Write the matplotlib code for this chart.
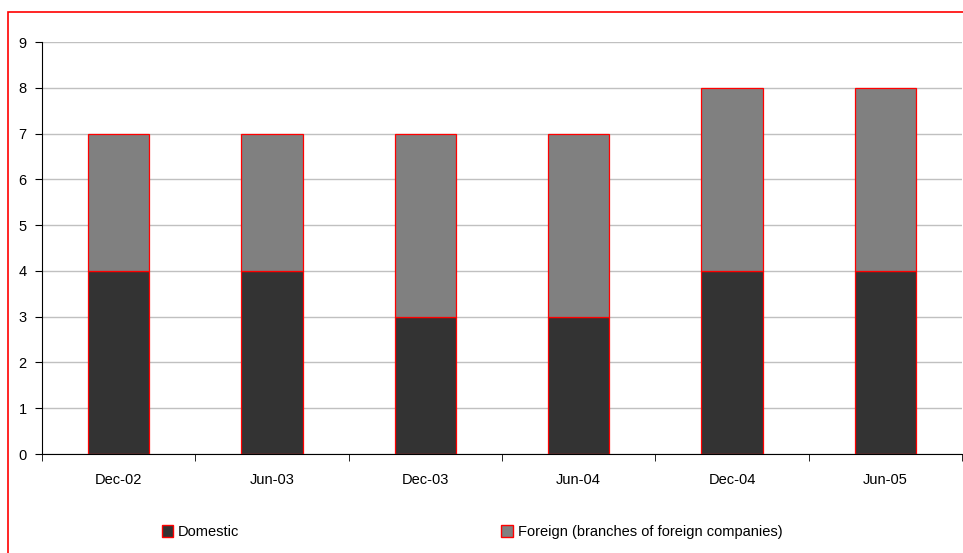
import numpy as np
import matplotlib
matplotlib.use('Agg')
from matplotlib import pyplot as plt
from matplotlib.patches import Rectangle, Patch

periods = ['Dec-02', 'Jun-03', 'Dec-03', 'Jun-04', 'Dec-04', 'Jun-05']
domestic = [4, 4, 3, 3, 4, 4]
foreign = [3, 3, 4, 4, 4, 4]

plt.rcParams['font.family'] = ['Liberation Sans', 'DejaVu Sans']

fig = plt.figure(figsize=(9.63, 5.53), dpi=100)
ax = fig.add_axes([42/963, 1 - 454/553, 920/963, 412/553])

x = np.arange(len(periods))
ax.bar(x, domestic, width=0.4, color='#333333', edgecolor='red', linewidth=0.9,
       label='Domestic', zorder=3)
ax.bar(x, foreign, width=0.4, bottom=domestic, color='#808080', edgecolor='red',
       linewidth=0.9, label='Foreign (branches of foreign companies)', zorder=3)

ax.set_xlim(-0.5, len(periods) - 0.5)
ax.set_ylim(0, 9)
ax.set_yticks(range(10))
ax.yaxis.grid(True, color='#c0c0c0', linewidth=1)
ax.set_axisbelow(True)

ax.set_xticks(x)
ax.set_xticklabels(periods, fontsize=10.5)
ax.tick_params(axis='x', length=0, pad=14)
ax.set_xticks(np.arange(len(periods) + 1) - 0.5, minor=True)
ax.tick_params(axis='x', which='minor', length=5, color='black')
ax.tick_params(axis='y', labelsize=10.5, length=5, pad=6)

for s in ['top', 'right']:
    ax.spines[s].set_visible(False)
ax.spines['left'].set_color('black')
ax.spines['bottom'].set_color('black')

handles = [Patch(facecolor='#333333', edgecolor='red', label='Domestic'),
           Patch(facecolor='#808080', edgecolor='red',
                 label='Foreign (branches of foreign companies)')]
fig.legend(handles=handles, loc='center', bbox_to_anchor=(0.49, 1 - 532/553),
           ncol=2, frameon=False, fontsize=10.5, handlelength=0.8,
           handleheight=0.8, handletextpad=0.3, columnspacing=18)

fig.patches.append(Rectangle((8/963, -0.1), 1.1, 1 - 12/553 + 0.1,
                             transform=fig.transFigure, fill=False,
                             edgecolor='red', linewidth=1.2))

fig.savefig('out.png', dpi=100)
